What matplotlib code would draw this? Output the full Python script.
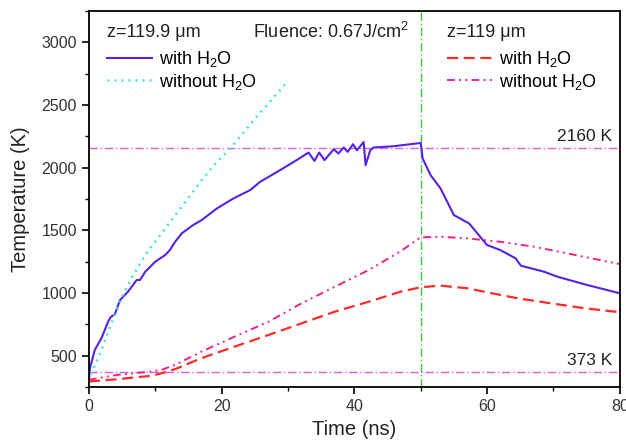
import matplotlib
matplotlib.use('Agg')
import matplotlib.pyplot as plt
from matplotlib.ticker import MultipleLocator

plt.rcParams['font.family'] = ['Liberation Sans', 'DejaVu Sans']
plt.rcParams['mathtext.fontset'] = 'custom'
plt.rcParams['mathtext.rm'] = 'Liberation Sans'
plt.rcParams['mathtext.default'] = 'regular'

# z = 119.9 um, with H2O (solid)
t_w1 = [0, 0.15, 0.9, 1.9, 2.9, 3.3, 3.9, 4.7, 5.9, 7.2, 7.7, 8.5, 10.0, 11.5, 12.2,
        13.0, 14.0, 15.7, 17.0, 19.3, 21.8, 24.3, 25.8, 28.8, 31.3, 33.1, 34.0, 34.7,
        35.5, 36.9, 37.6, 38.4, 39.0, 39.8, 40.4, 41.4, 41.7, 42.4, 42.9, 45.9, 50.0,
        50.3, 51.5, 53.0, 55.0, 57.3, 60.0, 62.0, 64.3, 65.1, 68.6, 70.6, 75.1, 80.0]
T_w1 = [300, 400, 548, 641, 773, 810, 830, 946, 1012, 1105, 1105, 1171, 1251, 1304, 1344,
        1410, 1477, 1543, 1583, 1676, 1756, 1822, 1888, 1981, 2061, 2122, 2055, 2122,
        2061, 2148, 2114, 2162, 2127, 2188, 2140, 2206, 2021, 2140, 2162, 2172, 2198,
        2074, 1941, 1835, 1623, 1556, 1384, 1344, 1278, 1219, 1171, 1131, 1065, 999]

# z = 119.9 um, without H2O (dotted)
t_wo1 = [0, 0.4, 1.9, 3.4, 4.9, 6.4, 8.0, 9.0, 10.0, 12.7, 15.0, 17.0, 19.0, 21.4, 25.0, 30.0]
T_wo1 = [300, 362, 548, 760, 959, 1119, 1264, 1344, 1410, 1600, 1760, 1900, 2030, 2160, 2390, 2692]

# z = 119 um, with H2O (dashed)
t_w2 = [0, 4.4, 9.5, 11.0, 13.0, 17.0, 22.0, 27.1, 32.1, 37.1, 42.2, 47.0, 50.0,
        53.0, 57.0, 60.0, 64.6, 69.6, 74.6, 80.0]
T_w2 = [295, 314, 341, 362, 394, 482, 574, 667, 760, 853, 932, 1012, 1047,
        1060, 1039, 1007, 959, 919, 880, 848]

# z = 119 um, without H2O (dash-dot-dot)
t_wo2 = [0, 4.4, 9.5, 11.0, 13.0, 17.0, 22.0, 27.1, 32.1, 37.1, 42.2, 47.0, 50.0,
         53.0, 57.0, 62.0, 67.1, 72.1, 80.0]
T_wo2 = [309, 349, 375, 389, 428, 534, 654, 773, 920, 1052, 1185, 1335, 1445,
         1450, 1437, 1410, 1370, 1317, 1232]

T_boil = 373
T_melt = 2160
t_pulse = 50

fig = plt.figure(figsize=(6.26, 4.45), dpi=100)
ax = fig.add_axes([0.142, 0.130, 0.848, 0.845])

c_blue = '#5522E6'
c_cyan = '#3EE0F0'
c_red = '#FF2A2A'
c_mag = '#F0208C'
c_ref = '#DD5FDD'
c_green = '#33CC33'

ax.axhline(T_melt, color=c_ref, lw=1.0, dashes=(6, 2, 1, 2))
ax.axhline(T_boil, color=c_ref, lw=1.0, dashes=(6, 2, 1, 2))
ax.axvline(t_pulse, color=c_green, lw=1.0, dashes=(6, 2, 1, 2))

l1, = ax.plot(t_w1, T_w1, color=c_blue, lw=1.5)
l2, = ax.plot(t_wo1, T_wo1, color=c_cyan, lw=1.8, dashes=(0.8, 2.0))
l3, = ax.plot(t_w2, T_w2, color=c_red, lw=1.6, dashes=(5, 2.5))
l4, = ax.plot(t_wo2, T_wo2, color=c_mag, lw=1.4, dashes=(4, 2.2, 1, 2.2, 1, 2.2))

ax.set_xlim(0, 80)
ax.set_ylim(250, 3250)
ax.xaxis.set_major_locator(MultipleLocator(20))
ax.xaxis.set_minor_locator(MultipleLocator(10))
ax.yaxis.set_major_locator(MultipleLocator(500))
ax.yaxis.set_minor_locator(MultipleLocator(250))
ax.set_yticks([500, 1000, 1500, 2000, 2500, 3000])
ax.tick_params(which='major', direction='out', length=5, width=1.2, labelsize=11.5,
               labelcolor='#333333', top=False, right=False)
ax.tick_params(which='minor', direction='out', length=3, width=1.0, top=False, right=False)
for s in ax.spines.values():
    s.set_linewidth(1.3)

ax.set_xlabel('Time (ns)', fontsize=14.5, color='#222222', labelpad=4)
ax.set_ylabel('Temperature (K)', fontsize=14.5, color='#222222', labelpad=8)

# legends (titles drawn as plain text above them)
leg_kw = dict(loc='center left', frameon=False, fontsize=13,
              handlelength=2.5, handletextpad=0.39, labelspacing=0.14,
              borderaxespad=0.0, borderpad=0.0)
leg1 = ax.legend([l1, l2], ['with H$_2$O', 'without H$_2$O'],
                 bbox_to_anchor=(0.034, 0.842), **leg_kw)
ax.add_artist(leg1)
leg2 = ax.legend([l3, l4], ['with H$_2$O', 'without H$_2$O'],
                 bbox_to_anchor=(0.674, 0.842), **leg_kw)

ax.text(0.034, 0.944, 'z=119.9 μm', transform=ax.transAxes, fontsize=13,
        ha='left', va='center', color='#222222')
ax.text(0.674, 0.944, 'z=119 μm', transform=ax.transAxes, fontsize=13,
        ha='left', va='center', color='#222222')
ax.text(0.455, 0.944, 'Fluence: 0.67J/cm$^2$', transform=ax.transAxes, fontsize=13,
        ha='center', va='center', color='#222222')
ax.text(0.985, T_melt + 30, '2160 K', transform=ax.get_yaxis_transform(), fontsize=12.5,
        ha='right', va='bottom', color='#222222')
ax.text(0.985, T_boil + 30, '373 K', transform=ax.get_yaxis_transform(), fontsize=12.5,
        ha='right', va='bottom', color='#222222')

fig.savefig('out.png', dpi=100)
